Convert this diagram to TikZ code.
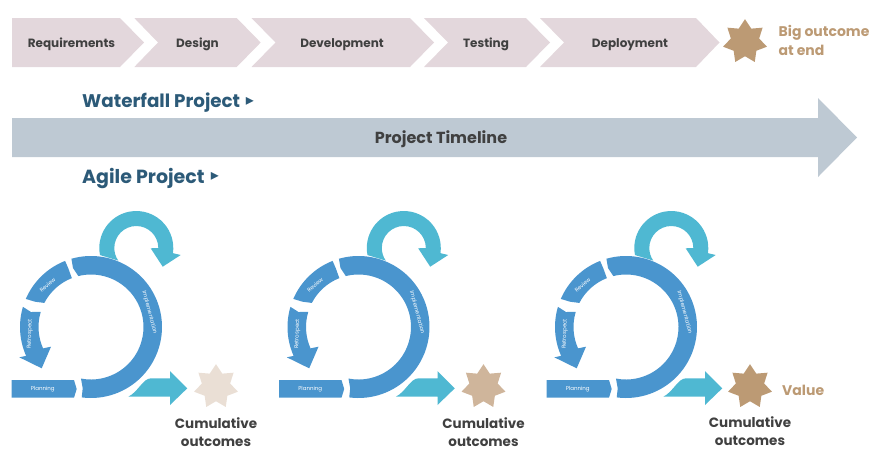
\documentclass[tikz,border=0pt]{standalone}
\usepackage{fontspec}
\setmainfont{Poppins}
\newfontfamily\symfont{DejaVu Sans}
\usetikzlibrary{shapes.geometric}
\definecolor{chev}{HTML}{E3D7DC}
\definecolor{band}{HTML}{BEC9D3}
\definecolor{blueseg}{HTML}{4A95CE}
\definecolor{tealseg}{HTML}{4FB8D2}
\definecolor{titleblue}{HTML}{2C5A78}
\definecolor{darktext}{HTML}{404040}
\definecolor{gold}{HTML}{BC9A74}
\definecolor{goldmid}{HTML}{CFB59B}
\definecolor{goldpale}{HTML}{EADFD5}
\tikzset{
  chevshape/.style={fill=chev,draw=none},
  chevlabel/.style={font=\fontsize{12}{14}\selectfont\bfseries,text=darktext,inner sep=0pt,anchor=base},
  headline/.style={text=titleblue,inner sep=0pt,anchor=base west},
  tip/.style={font=\symfont\fontsize{16}{18}\selectfont,text=titleblue,inner sep=0pt},
  startip/.style={star,star points=7,star point ratio=1.55,minimum size=45pt,inner sep=0pt,outer sep=0pt,draw=none},
  seg/.style={fill=blueseg,draw=none},
  teal/.style={fill=tealseg,draw=none},
  seglabel/.style={font=\fontsize{5.5}{6}\selectfont,text=white,inner sep=0pt},
  outcome/.style={font=\fontsize{13.5}{18}\selectfont\bfseries,text=darktext,align=center,inner sep=0pt},
  goldtext/.style={font=\fontsize{14}{18.5}\selectfont\bfseries,text=gold,inner sep=0pt},
}
\newcommand{\agilecycle}[5]{% prefix, x shift, star x, star colour, text y
\begin{scope}[shift={(#2,0)},name prefix=#1-]
  % teal loop
  \begin{scope}[shift={(136.3,248)}]
    \fill[teal] (169:37) arc[start angle=169,end angle=368,radius=37]
      -- (44.4,7) -- (26.4,18.7) -- (14.4,0.3) -- (22,0)
      arc[start angle=0,end angle=-215,radius=22] -- cycle;
  \end{scope}
  % teal output arrow
  \fill[teal] (128.3,396.7) .. controls (138,392) and (143,378.3) .. (151,378.3)
    -- (170,378.3) -- (170,371) -- (187.3,388.3) -- (170,405) -- (170,396.7) -- cycle;
  % blue ring pieces
  \begin{scope}[shift={(91,327)}]
    \fill[seg] (254:71) arc[start angle=254,end angle=457.5,radius=71]
      -- (-8.3,61.3) -- (461:52.5) arc[start angle=461,end angle=256,radius=52.5]
      -- (-18,-59) -- cycle;
    \fill[seg] (203.3:71) arc[start angle=203.3,end angle=248.6,radius=71]
      -- (-22.7,-58.7) -- (248.6:52.5) arc[start angle=248.6,end angle=207.3,radius=52.5]
      -- (-56,-25.3) -- cycle;
    \fill[seg] (196.5:71) arc[start angle=196.5,end angle=156,radius=71]
      -- (-71.7,30.3) -- (-49.3,41.3) -- (-40,19.7) -- (156:52.5)
      arc[start angle=156,end angle=196.7,radius=52.5] -- (-60,-15) -- cycle;
  \end{scope}
  \fill[seg] (11.7,380) -- (74,380) -- (76.7,389) -- (74,397.7) -- (11.7,397.7) -- cycle;
  \node[seglabel] (planning) at (42.7,389) {Planning};
  \node[seglabel,rotate=-75] (implementation) at (149.5,312.5) {Implementation};
  \node[seglabel,rotate=42] (review) at (47.5,285) {Review};
  \node[seglabel,rotate=88] (retrospect) at (30,334) {Retrospect};
\end{scope}
\node[startip,fill=#4] (#1-star) at (#3,386.7) {};
\node[outcome] (#1-text) at (#3,#5) {Cumulative\\outcomes};
}
\begin{document}
\begin{tikzpicture}[x=1pt,y=-1pt]
\useasboundingbox (0,0) rectangle (883,459);
% waterfall chevrons
\fill[chevshape] (12,18) -- (120,18) -- (144,42.5) -- (120,67) -- (12,67) -- cycle;
\fill[chevshape] (134.3,18) -- (236.7,18) -- (260.7,42.5) -- (236.7,67) -- (134.3,67) -- (158,42.5) -- cycle;
\fill[chevshape] (251.5,18) -- (410,18) -- (434,42.5) -- (410,67) -- (251.5,67) -- (275.5,42.5) -- cycle;
\fill[chevshape] (424,18) -- (526,18) -- (550,42.5) -- (526,67) -- (424,67) -- (448,42.5) -- cycle;
\fill[chevshape] (540,18) -- (696,18) -- (719.5,42.5) -- (696,67) -- (540,67) -- (564,42.5) -- cycle;
\node[chevlabel] (req) at (71.5,47.7) {Requirements};
\node[chevlabel] (des) at (197.5,47.7) {Design};
\node[chevlabel] (dev) at (342,47.7) {Development};
\node[chevlabel] (tes) at (486,47.7) {Testing};
\node[chevlabel] (dep) at (630,47.7) {Deployment};
\node[startip,fill=gold] (bigstar) at (745,41.7) {};
\node[goldtext,anchor=west,align=left] (bigtext) at (778.5,40.5) {Big outcome\\at end};
% timeline
\fill[band] (12,118) -- (818,118) -- (818,98) -- (857,137.5) -- (818,177) -- (818,157) -- (12,157) -- cycle;
\node[font=\fontsize{16}{18}\selectfont\bfseries,text=darktext,inner sep=0pt,anchor=base] (timeline) at (441,143.3) {Project Timeline};
\node[headline,font=\fontsize{18.3}{21}\selectfont\bfseries] (waterfall) at (82,107.3) {Waterfall Project};
\node[tip] (wtip) at (250,101) {▸};
\node[headline,font=\fontsize{19}{21}\selectfont\bfseries] (agile) at (82,183.3) {Agile Project};
\node[tip] (atip) at (215,176.5) {▸};
% agile cycles
\agilecycle{a}{0}{216}{goldpale}{432}
\agilecycle{b}{267.5}{483.5}{goldmid}{432}
\agilecycle{c}{535}{750}{gold}{431}
\node[goldtext,anchor=west] (value) at (782,390) {Value};
\end{tikzpicture}
\end{document}
